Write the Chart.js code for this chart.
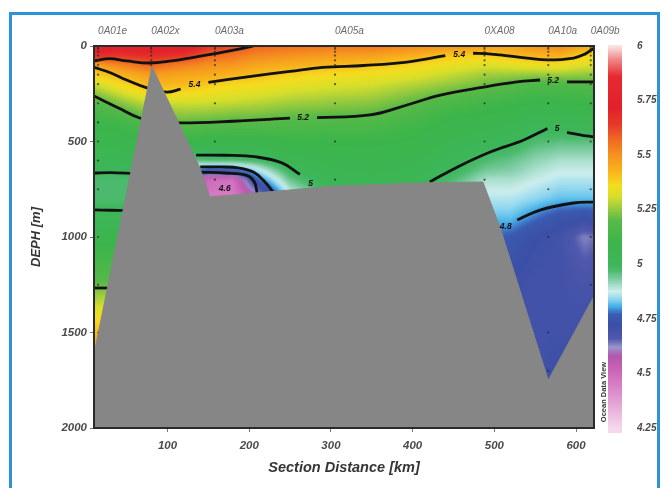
<!DOCTYPE html>
<html><head><meta charset="utf-8">
<script src="https://cdn.jsdelivr.net/npm/chart.js@4.4.1/dist/chart.umd.min.js"></script>
<style>
html,body{margin:0;padding:0;background:#fff;width:665px;height:488px;overflow:hidden;}
#frame{position:absolute;left:9px;top:12px;width:651px;height:520px;border:3px solid #2b93d6;box-sizing:border-box;background:#fff;}
#c{position:absolute;left:0;top:0;}
</style></head><body>
<div id="frame"></div>
<canvas id="c" width="665" height="488"></canvas>
<script>
const FONT = "'Liberation Sans', Arial, sans-serif";

// axis ticks
const xTicks = [100, 200, 300, 400, 500, 600];
const yTicks = [0, 500, 1000, 1500, 2000];
const cbTicks = [4.25, 4.5, 4.75, 5, 5.25, 5.5, 5.75, 6];

// stations (distance km) and sample depths
const stationNames = ['0A01e', '0A02x', '0A03a', '0A05a', '0XA08', '0A10a', '0A09b'];
const stationKm = [15, 80, 158, 305, 488, 566, 618];
const stationSamples = [
  [5, 15, 30, 50, 75, 100, 150, 200, 300, 400, 500, 600, 750, 1000, 1250, 1500],
  [5, 15, 30, 50, 75, 100],
  [5, 15, 30, 50, 75, 100, 150, 200, 300, 500, 700],
  [5, 15, 30, 50, 75, 100, 150, 200, 300, 500, 700],
  [5, 15, 30, 50, 75, 100, 150, 200, 300, 500, 700],
  [5, 15, 30, 50, 75, 100, 150, 200, 300, 500, 750, 1000, 1500, 1700],
  [5, 15, 30, 50, 75, 100, 150, 200, 300, 500, 750, 1000, 1250]
];

// gridded field (value per depth row, per distance column)
const gridKm = [0, 40, 80, 120, 150, 180, 210, 250, 300, 350, 400, 450, 490, 520, 550, 580, 610, 640];
const gridDepth = [0, 50, 100, 150, 200, 300, 400, 500, 600, 650, 700, 800, 900, 1000, 1200, 1400, 1600, 1800, 2000];
const fieldValues = [
  [5.75,5.76,5.76,5.78,5.66,5.62,5.58,5.56,5.55,5.55,5.52,5.50,5.48,5.47,5.50,5.52,5.46,5.38],
  [5.70,5.66,5.68,5.66,5.58,5.55,5.52,5.50,5.48,5.47,5.44,5.39,5.38,5.41,5.43,5.44,5.38,5.33],
  [5.44,5.52,5.58,5.53,5.50,5.49,5.46,5.44,5.42,5.40,5.37,5.34,5.32,5.33,5.35,5.35,5.32,5.30],
  [5.36,5.43,5.48,5.46,5.45,5.43,5.41,5.38,5.36,5.35,5.33,5.29,5.26,5.26,5.25,5.26,5.25,5.25],
  [5.28,5.36,5.43,5.42,5.39,5.37,5.36,5.34,5.32,5.31,5.28,5.25,5.22,5.19,5.17,5.17,5.18,5.18],
  [5.15,5.23,5.30,5.30,5.30,5.29,5.28,5.26,5.25,5.24,5.20,5.15,5.12,5.11,5.09,5.09,5.10,5.10],
  [5.10,5.12,5.18,5.21,5.20,5.19,5.19,5.18,5.17,5.17,5.13,5.08,5.07,5.06,5.03,5.03,5.04,5.04],
  [5.07,5.07,5.10,5.10,5.08,5.08,5.08,5.10,5.10,5.10,5.09,5.05,5.03,5.01,4.97,4.96,4.96,4.96],
  [5.03,5.03,5.05,4.95,4.97,4.97,4.98,5.04,5.06,5.07,5.06,5.02,4.97,4.95,4.92,4.90,4.90,4.90],
  [5.00,5.00,5.02,4.85,4.72,4.74,4.86,5.00,5.05,5.06,5.05,5.00,4.94,4.93,4.90,4.88,4.88,4.88],
  [4.97,4.97,4.98,4.70,4.50,4.48,4.76,4.95,5.03,5.05,5.03,4.97,4.90,4.90,4.88,4.86,4.86,4.86],
  [4.97,4.97,4.98,4.70,4.45,4.45,4.56,4.85,5.00,5.00,4.98,4.90,4.86,4.86,4.84,4.82,4.82,4.82],
  [5.03,5.03,5.03,4.80,4.60,4.60,4.70,4.85,4.95,4.95,4.92,4.85,4.82,4.82,4.78,4.74,4.73,4.74],
  [5.08,5.08,5.08,4.90,4.80,4.80,4.80,4.90,4.95,4.95,4.90,4.80,4.78,4.76,4.72,4.70,4.63,4.66],
  [5.16,5.18,5.15,5.00,5.00,5.00,5.00,5.00,5.00,5.00,4.90,4.75,4.73,4.72,4.70,4.70,4.68,4.69],
  [5.33,5.35,5.20,5.00,5.00,5.00,5.00,5.00,5.00,5.00,4.90,4.72,4.71,4.70,4.70,4.70,4.70,4.70],
  [5.48,5.50,5.20,5.00,5.00,5.00,5.00,5.00,5.00,5.00,4.90,4.72,4.71,4.70,4.70,4.71,4.70,4.70],
  [5.48,5.50,5.20,5.00,5.00,5.00,5.00,5.00,5.00,5.00,4.90,4.72,4.71,4.70,4.70,4.72,4.70,4.70],
  [5.48,5.50,5.20,5.00,5.00,5.00,5.00,5.00,5.00,5.00,4.90,4.72,4.71,4.70,4.70,4.72,4.70,4.70]
];

// bathymetry
const seafloorKm =    [10,   81,  139, 152, 207, 300, 400, 486, 507, 566,  622];
const seafloorDepth = [1615, 108, 633, 790, 770, 735, 718, 712, 950, 1750, 1310];

// contour lines [km, depth]
const contour56 = [[10,78],[29,66],[50,78],[78,89],[105,78],[127,63],[160,38],[192,12],[205,0]];
const contour54a = [[10,112],[30,140],[50,178],[74,218],[99,241],[116,226]];
const contour54b = [[150,190],[200,160],[250,133],[290,112],[340,102],[393,84],[440,50]];
const contour54c = [[474,38],[490,40],[507,47],[540,63],[565,73],[597,63],[612,40],[618,22],[622,12]];
const contour52a = [[10,262],[40,325],[66,377],[90,395],[118,403],[180,394],[250,378]];
const contour52b = [[283,375],[348,361],[393,309],[434,257],[487,215],[528,188],[556,178]];
const contour52c = [[589,188],[605,188],[622,188]];
const contour52d = [[10,1267],[32,1267]];
const contour50a = [[10,665],[30,663],[60,668]];
const contour50b = [[10,858],[30,860],[50,862]];
const contour50c = [[135,571],[170,572],[209,581],[240,612],[262,672]];
const contour50d = [[421,712],[455,633],[495,555],[536,492],[565,432]];
const contour50e = [[589,452],[605,465],[622,476]];
const contour48a = [[140,633],[165,633],[188,639],[205,660],[217,702],[229,764],[232,790]];
const contour48b = [[528,911],[556,859],[597,822],[622,817]];
const contour46a = [[140,660],[170,665],[197,677],[206,710],[209,754],[210,790]];
const contourLines = [contour56, contour54a, contour54b, contour54c, contour52a, contour52b, contour52c, contour52d,
  contour50a, contour50b, contour50c, contour50d, contour50e, contour48a, contour48b, contour46a];

// contour labels
const labelText = ['5.4', '5.4', '5.2', '5.2', '5', '5', '4.8', '4.6'];
const labelKm = [133, 457, 266, 572, 275, 577, 514, 170];
const labelDepth = [205, 45, 377, 180, 722, 432, 945, 745];

// colour map
const colorStops = [
  [4.25,'#f4d8ec'],[4.32,'#eab8de'],[4.42,'#dc8acb'],[4.52,'#c962b7'],[4.58,'#b257ad'],[4.62,'#9a94cc'],
  [4.66,'#5058ac'],[4.72,'#3b4fa6'],[4.77,'#3a5cb2'],[4.785,'#3d7ccc'],[4.81,'#49b4e8'],[4.84,'#8fd6ef'],
  [4.875,'#cdeeed'],[4.92,'#8ed3b4'],[4.97,'#4cba6e'],[5.0,'#3db65a'],[5.1,'#3bb54a'],[5.2,'#58b947'],
  [5.26,'#9fcc3c'],[5.31,'#d8df2a'],[5.36,'#f4dc1e'],[5.42,'#f8b81b'],[5.5,'#f5921e'],[5.57,'#f06a22'],
  [5.64,'#e63a28'],[5.72,'#e2202b'],[5.86,'#e62a30'],[5.94,'#ef8a8a'],[6.0,'#f8e6e4']
];

function hexRgb(h){ return [parseInt(h.slice(1,3),16), parseInt(h.slice(3,5),16), parseInt(h.slice(5,7),16)]; }
const stopsRgb = colorStops.map(s => [s[0], hexRgb(s[1])]);
const LUT = [];
for (let i = 0; i <= 700; i++) {
  const v = 4.25 + i * 0.0025;
  let k = 0;
  while (k < stopsRgb.length - 2 && v > stopsRgb[k+1][0]) k++;
  const a = stopsRgb[k], b = stopsRgb[k+1];
  const t = Math.max(0, Math.min(1, (v - a[0]) / (b[0] - a[0])));
  LUT.push([0,1,2].map(c => Math.round(a[1][c] + (b[1][c] - a[1][c]) * t)));
}
function colorFor(v){ const i = Math.max(0, Math.min(700, Math.round((v - 4.25) / 0.0025))); return LUT[i]; }
function clamp(v,a,b){ return Math.max(a, Math.min(b, v)); }
function fieldAt(km, d) {
  let i = 0; while (i < gridKm.length - 2 && km > gridKm[i+1]) i++;
  let j = 0; while (j < gridDepth.length - 2 && d > gridDepth[j+1]) j++;
  const tx = clamp((km - gridKm[i]) / (gridKm[i+1] - gridKm[i]), 0, 1);
  const ty = clamp((d - gridDepth[j]) / (gridDepth[j+1] - gridDepth[j]), 0, 1);
  const v00 = fieldValues[j][i], v10 = fieldValues[j][i+1], v01 = fieldValues[j+1][i], v11 = fieldValues[j+1][i+1];
  return v00*(1-tx)*(1-ty) + v10*tx*(1-ty) + v01*(1-tx)*ty + v11*tx*ty;
}

const fieldPlugin = {
  id: 'field',
  beforeDatasetsDraw(chart) {
    const {ctx, chartArea: a, scales} = chart;
    const x = scales.x, y = scales.y;
    const pad = 8;
    const W = Math.ceil(a.right - a.left) + 2 * pad, H = Math.ceil(a.bottom - a.top) + 2 * pad;
    const off = document.createElement('canvas'); off.width = W; off.height = H;
    const octx = off.getContext('2d');
    const img = octx.createImageData(W, H);
    const kms = [];
    for (let px = 0; px < W; px++) kms.push(x.getValueForPixel(a.left - pad + px + 0.5));
    for (let py = 0; py < H; py++) {
      const d = y.getValueForPixel(a.top - pad + py + 0.5);
      for (let px = 0; px < W; px++) {
        const c = colorFor(fieldAt(kms[px], d));
        const k = (py * W + px) * 4;
        img.data[k] = c[0]; img.data[k+1] = c[1]; img.data[k+2] = c[2]; img.data[k+3] = 255;
      }
    }
    octx.putImageData(img, 0, 0);
    ctx.save();
    ctx.beginPath(); ctx.rect(a.left, a.top, a.right - a.left, a.bottom - a.top); ctx.clip();
    ctx.filter = 'blur(1.5px)';
    ctx.drawImage(off, a.left - pad, a.top - pad);
    ctx.restore();
  },
  afterDatasetsDraw(chart) {
    const {ctx, chartArea: a, scales} = chart;
    const x = scales.x, y = scales.y, cb = scales.cb;
    // contour labels
    ctx.save();
    ctx.font = "italic bold 8.5px " + FONT;
    ctx.fillStyle = '#111';
    ctx.textAlign = 'center'; ctx.textBaseline = 'middle';
    labelText.forEach((t, i) => ctx.fillText(t, x.getPixelForValue(labelKm[i]), y.getPixelForValue(labelDepth[i])));
    ctx.restore();
    // plot frame
    ctx.save();
    ctx.strokeStyle = '#2a2a2a'; ctx.lineWidth = 2;
    ctx.strokeRect(a.left, a.top, a.right - a.left, a.bottom - a.top);
    ctx.restore();
    // colour bar
    const top = cb.getPixelForValue(6), bot = cb.getPixelForValue(4.25);
    const bx = a.right + 14;
    for (let py = Math.floor(top) - 1; py < bot + 5; py++) {
      const c = colorFor(cb.getValueForPixel(py + 0.5));
      ctx.fillStyle = 'rgb(' + c[0] + ',' + c[1] + ',' + c[2] + ')';
      ctx.fillRect(bx, py, 14, 1);
    }
    // watermark
    ctx.save();
    ctx.translate(a.right + 10, 392);
    ctx.rotate(-Math.PI / 2);
    ctx.font = "bold 7.5px " + FONT;
    ctx.fillStyle = '#333';
    ctx.textAlign = 'center'; ctx.textBaseline = 'middle';
    ctx.fillText('Ocean Data View', 0, 0);
    ctx.restore();
  }
};

const tickFont = {family: FONT, size: 11.5, style: 'italic', weight: 'bold'};
const datasets = [];
datasets.push({
  type: 'line', label: 'seafloor', order: 0,
  data: seafloorKm.map((k, i) => ({x: k, y: seafloorDepth[i]})),
  borderColor: '#868686', borderWidth: 1, backgroundColor: '#868686',
  fill: {value: 2000}, pointRadius: 0, tension: 0
});
datasets.push({
  type: 'scatter', label: 'samples', order: 1,
  data: stationKm.flatMap((k, i) => stationSamples[i].map(d => ({x: k, y: d}))),
  pointRadius: 1.1, pointBackgroundColor: 'rgba(40,40,40,0.75)', pointBorderWidth: 0
});
contourLines.forEach((line, i) => datasets.push({
  type: 'line', label: 'c' + i, order: 2,
  data: line.map(p => ({x: p[0], y: p[1]})),
  borderColor: '#121212', borderWidth: 2.8, pointRadius: 0, tension: 0.4, fill: false
}));

new Chart(document.getElementById('c'), {
  data: {datasets},
  options: {
    responsive: false, animation: false, devicePixelRatio: 1, events: [],
    layout: {padding: 0},
    plugins: {legend: {display: false}, tooltip: {enabled: false}},
    scales: {
      x: {
        type: 'linear', position: 'bottom', min: 10, max: 622,
        afterBuildTicks: s => { s.ticks = xTicks.map(v => ({value: v})); },
        afterFit: s => { s.height = 60; },
        ticks: {font: tickFont, color: '#4a4a4a', padding: 7, callback: v => String(v), maxRotation: 0, autoSkip: false},
        grid: {drawOnChartArea: false, tickLength: 4, color: '#777'},
        border: {display: false},
        title: {display: true, text: 'Section Distance [km]', color: '#353535',
          font: {family: FONT, size: 14.5, style: 'italic', weight: 'bold'}, padding: {top: 0, bottom: 11}}
      },
      xTop: {
        type: 'linear', position: 'top', min: 10, max: 622,
        afterBuildTicks: s => { s.ticks = stationKm.map(v => ({value: v})); },
        afterFit: s => { s.height = 46; },
        ticks: {font: {family: FONT, size: 10, style: 'italic'}, color: '#6a6a6a', padding: 1, align: 'start',
          callback: (v, i) => stationNames[i], maxRotation: 0, autoSkip: false},
        grid: {display: false},
        border: {display: false}
      },
      y: {
        type: 'linear', position: 'left', reverse: true, min: 0, max: 2000,
        afterBuildTicks: s => { s.ticks = yTicks.map(v => ({value: v})); },
        afterFit: s => { s.width = 94; },
        ticks: {font: tickFont, color: '#4a4a4a', padding: 3, callback: v => String(v)},
        grid: {drawOnChartArea: false, tickLength: 4, color: '#777'},
        border: {display: false},
        title: {display: true, text: 'DEPH [m]', color: '#353535',
          font: {family: FONT, size: 13, style: 'italic', weight: 'bold'}, padding: {top: 29, bottom: 0}}
      },
      cb: {
        type: 'linear', position: 'right', min: 4.25, max: 6,
        afterBuildTicks: s => { s.ticks = cbTicks.map(v => ({value: v})); },
        afterFit: s => { s.width = 71; },
        ticks: {font: {family: FONT, size: 10, style: 'italic', weight: 'bold'}, color: '#4a4a4a', padding: 35,
          callback: v => String(v)},
        grid: {display: false},
        border: {display: false}
      }
    }
  },
  plugins: [fieldPlugin]
});
</script></body></html>
